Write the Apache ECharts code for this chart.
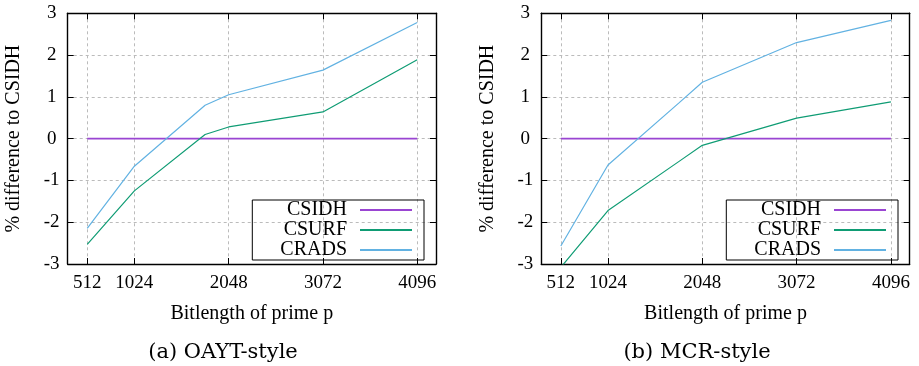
<!DOCTYPE html>
<html>
<head>
<meta charset="utf-8">
<script src="https://cdn.jsdelivr.net/npm/echarts@6/dist/echarts.min.js"></script>
<style>
  html, body { margin: 0; padding: 0; background: #fff; }
  #chart { width: 919px; height: 366px; }
</style>
</head>
<body>
<div id="chart"></div>
<script>
// x positions of the measured points (bit length of p)
var bits = [512, 1024, 1792, 2048, 3072, 4096];
// tick labels on the x axis
var xTicks = [512, 1024, 2048, 3072, 4096];
var seriesNames = ['CSIDH', 'CSURF', 'CRADS'];
var captions = ['(a) OAYT-style', '(b) MCR-style'];

// (a) OAYT-style, % difference to CSIDH
var oaytCsidh = [0, 0, 0, 0, 0, 0];
var oaytCsurf = [-2.53, -1.25, 0.10, 0.28, 0.64, 1.89];
var oaytCrads = [-2.15, -0.66, 0.80, 1.05, 1.64, 2.78];

// (b) MCR-style, % difference to CSIDH
var mcrCsidh = [0, 0, 0, 0, 0, 0];
var mcrCsurf = [-3.08, -1.72, -0.55, -0.16, 0.49, 0.88];
var mcrCrads = [-2.57, -0.63, 0.85, 1.35, 2.30, 2.83];

var colors = ['#9a45d2', '#0f9c74', '#62b2e2'];
var font = 'Liberation Serif, Times New Roman, serif';

var chartDom = document.getElementById('chart');
var myChart = echarts.init(chartDom, null, { renderer: 'canvas' });

var toPairs = function (vals) {
    return bits.map(function (b, i) { return [b, vals[i]]; });
};

var grids = [
    { left: 67.7, top: 13.3, width: 368.3, height: 250.7 },
    { left: 541.3, top: 13.3, width: 368.4, height: 250.7 }
];

var border = { show: true, onZero: false, lineStyle: { color: '#000', width: 1.4 } };
var inTick = { show: true, inside: true, length: 6, lineStyle: { color: '#000', width: 1 } };
var dashed = { show: true, lineStyle: { color: '#bbbbbb', width: 1, type: [3, 3] } };

var xAxes = [];
var yAxes = [];
grids.forEach(function (g, gi) {
    // bottom axis
    xAxes.push({
        type: 'value', gridIndex: gi, position: 'bottom', min: 300, max: 4300,
        axisLine: border,
        axisTick: Object.assign({ customValues: xTicks }, inTick),
        axisLabel: {
            customValues: xTicks, margin: 10, color: '#000', fontFamily: font, fontSize: 19,
            formatter: function (v) { return String(v); }
        },
        splitLine: dashed,
        name: 'Bitlength of prime p', nameLocation: 'middle', nameGap: 40,
        nameTextStyle: { color: '#000', fontFamily: font, fontSize: 20 }
    });
    // top mirror
    xAxes.push({
        type: 'value', gridIndex: gi, position: 'top', min: 300, max: 4300,
        axisLine: border,
        axisTick: Object.assign({ customValues: xTicks }, inTick),
        axisLabel: { show: false },
        splitLine: { show: false }
    });
    // left axis
    yAxes.push({
        type: 'value', gridIndex: gi, position: 'left', min: -3, max: 3, interval: 1,
        axisLine: border,
        axisTick: inTick,
        axisLabel: { align: 'center', margin: 16, color: '#000', fontFamily: font, fontSize: 19 },
        splitLine: dashed,
        name: '% difference to CSIDH', nameLocation: 'middle', nameGap: 44, nameRotate: 90,
        nameTextStyle: { color: '#000', fontFamily: font, fontSize: 20 }
    });
    // right mirror
    yAxes.push({
        type: 'value', gridIndex: gi, position: 'right', min: -3, max: 3, interval: 1,
        axisLine: border,
        axisTick: inTick,
        axisLabel: { show: false },
        splitLine: { show: false }
    });
});

var panels = [
    [oaytCsidh, oaytCsurf, oaytCrads],
    [mcrCsidh, mcrCsurf, mcrCrads]
];
var widths = [1.6, 1.2, 1.2];
var series = [];
panels.forEach(function (p, pi) {
    p.forEach(function (vals, si) {
        series.push({
            name: seriesNames[si],
            type: 'line',
            xAxisIndex: pi * 2,
            yAxisIndex: pi * 2,
            data: toPairs(vals),
            symbol: 'none',
            clip: true,
            z: 3 + si,
            lineStyle: { color: colors[si], width: widths[si] },
            itemStyle: { color: colors[si] }
        });
    });
});

var legendRight = [495, 21];
var legends = legendRight.map(function (r) {
    return {
        data: seriesNames, orient: 'vertical', align: 'right',
        right: r, top: 200,
        padding: [0, 12, 0, 28],
        icon: 'rect',
        itemWidth: 52, itemHeight: 2, itemGap: 0,
        borderColor: '#000', borderWidth: 1,
        selectedMode: false,
        textStyle: { color: '#000', fontFamily: font, fontSize: 20, lineHeight: 20, padding: [0, 8, 0, 0] }
    };
});

var titles = captions.map(function (c, i) {
    return {
        text: c, left: [223, 697][i], top: 341, textAlign: 'center', padding: 0,
        textStyle: { color: '#000', fontFamily: 'DejaVu Serif, serif', fontSize: 21, fontWeight: 'normal', lineHeight: 24 }
    };
});

var option = {
    animation: false,
    backgroundColor: '#fff',
    color: colors,
    title: titles,
    legend: legends,
    grid: grids,
    xAxis: xAxes,
    yAxis: yAxes,
    series: series
};

option && myChart.setOption(option);
</script>
</body>
</html>
